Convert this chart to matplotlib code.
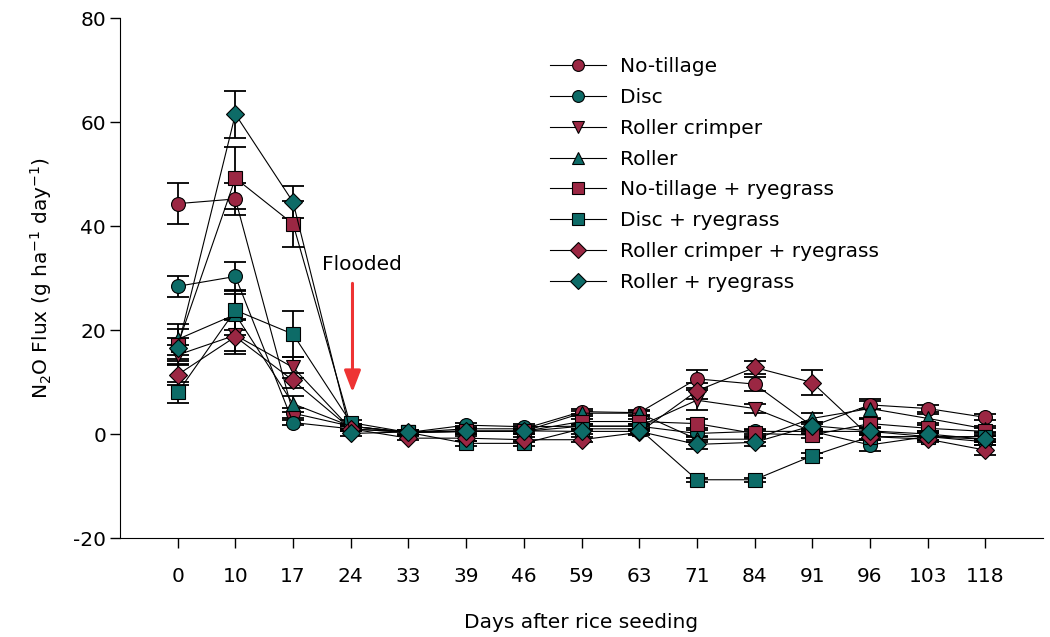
import matplotlib
matplotlib.use("Agg")
import matplotlib.pyplot as plt
import numpy as np

plt.rcParams['font.family'] = ['DejaVu Sans']
plt.rcParams['mathtext.default'] = 'regular'
plt.rcParams['axes.unicode_minus'] = False

days = ['0', '10', '17', '24', '33', '39', '46', '59', '63', '71', '84', '91', '96', '103', '118']

nt        = [44.3, 45.2, 4.0, 1.5, 0.3, 1.0, 1.0, 4.3, 4.1, 10.6, 9.6, 1.5, 5.6, 4.9, 3.2]
nt_err    = [4.0, 3.0, 1.0, 0.5, 0.4, 0.5, 0.5, 0.5, 0.5, 1.7, 1.4, 0.8, 0.8, 0.6, 0.6]
disc      = [28.4, 30.3, 2.2, 1.0, 0.3, 1.7, 1.4, 1.5, 1.5, 0.1, 0.5, 0.5, -2.1, -0.5, -1.5]
disc_err  = [2.0, 2.8, 0.5, 0.5, 0.4, 0.5, 0.5, 0.5, 0.5, 0.6, 0.5, 0.5, 1.1, 0.6, 0.6]
rc        = [15.2, 19.0, 12.8, 1.0, 0.3, 0.5, 0.5, 1.5, 1.5, 6.5, 4.9, 0.5, 0.5, -0.5, -1.0]
rc_err    = [2.0, 3.0, 2.0, 0.5, 0.4, 0.5, 0.5, 0.5, 0.5, 1.9, 0.8, 0.5, 0.6, 0.6, 0.6]
roller    = [18.2, 23.0, 5.8, 1.5, 0.3, 0.5, 0.5, 4.0, 4.0, -1.0, -1.0, 3.0, 4.9, 3.0, 1.0]
roller_err= [3.0, 4.0, 1.5, 0.5, 0.4, 0.5, 0.5, 0.5, 0.5, 0.6, 0.6, 1.0, 1.8, 0.8, 0.6]
ntr       = [17.1, 49.2, 40.4, 1.5, 0.3, 0.5, 0.5, 2.4, 2.4, 2.0, 0.1, -0.2, 2.0, 1.1, 0.5]
ntr_err   = [3.0, 6.0, 4.5, 0.5, 0.4, 0.5, 0.5, 0.5, 0.5, 0.8, 0.6, 0.6, 0.8, 0.6, 0.6]
discr     = [8.0, 23.8, 19.2, 2.2, 0.3, -1.8, -1.8, 1.0, 1.0, -8.8, -8.8, -4.2, -0.5, -0.5, -0.5]
discr_err = [2.0, 3.8, 4.4, 0.5, 0.4, 0.5, 0.5, 0.5, 0.5, 0.4, 0.4, 0.5, 0.6, 0.6, 0.6]
rcr       = [11.4, 18.7, 10.3, 1.0, -0.8, -0.8, -1.1, -1.1, 0.3, 8.3, 12.8, 9.9, -0.5, -1.0, -3.1]
rcr_err   = [2.0, 3.4, 1.5, 0.5, 0.4, 0.5, 0.5, 0.5, 0.5, 1.5, 1.3, 2.4, 0.6, 0.6, 1.0]
rr        = [16.5, 61.5, 44.6, 0.1, 0.4, 0.6, 0.6, 0.5, 0.5, -2.0, -1.6, 1.6, 0.6, 0.0, -1.0]
rr_err    = [2.0, 4.5, 3.0, 0.5, 0.4, 0.5, 0.5, 0.5, 0.5, 0.9, 0.8, 0.8, 0.8, 0.6, 0.6]

labels = ['No-tillage', 'Disc', 'Roller crimper', 'Roller',
          'No-tillage + ryegrass', 'Disc + ryegrass', 'Roller crimper + ryegrass', 'Roller + ryegrass']

RED = '#9b2743'
TEAL = '#0d6b67'

series = [
    (nt, nt_err, 'o', RED),
    (disc, disc_err, 'o', TEAL),
    (rc, rc_err, 'v', RED),
    (roller, roller_err, '^', TEAL),
    (ntr, ntr_err, 's', RED),
    (discr, discr_err, 's', TEAL),
    (rcr, rcr_err, 'D', RED),
    (rr, rr_err, 'D', TEAL),
]
msizes = {'o': 10, 'v': 10.5, '^': 10.5, 's': 9.5, 'D': 9}

fig = plt.figure(figsize=(10.5, 6.37), dpi=100)
ax = fig.add_axes([120/1050, 1-538/637, (1043-120)/1050, (538-18)/637])

x = np.arange(len(days))
handles = []
for (vals, err, m, c), lab in zip(series, labels):
    ax.errorbar(x, vals, yerr=err, fmt='none', ecolor='black', elinewidth=1.3,
                capsize=8, capthick=1.3, zorder=2)
    h, = ax.plot(x, vals, color='black', linewidth=0.8, marker=m, markersize=msizes[m],
                 markerfacecolor=c, markeredgecolor='black', markeredgewidth=0.8,
                 label=lab, zorder=3)
    handles.append(h)

ax.set_xlim(-1, 15)
ax.set_ylim(-20, 80)
ax.set_yticks([-20, 0, 20, 40, 60, 80])
ax.set_xticks(x)
ax.set_xticklabels(days)
ax.spines['top'].set_visible(False)
ax.spines['right'].set_visible(False)
ax.tick_params(axis='both', direction='out', length=7, width=1, labelsize=14.5, colors='black')
ax.tick_params(axis='x', pad=14)
ax.tick_params(axis='y', pad=3)

ax.set_xlabel('Days after rice seeding', fontsize=14.5, labelpad=19)
ax.set_ylabel('N$_2$O Flux (g ha$^{-1}$ day$^{-1}$)', fontsize=14.5, labelpad=14)

ax.annotate('', xy=(3.03, 7.5), xytext=(3.03, 29.5),
            arrowprops=dict(arrowstyle='-|>,head_length=1.3,head_width=0.5', color='#ee3333', lw=2.2))
ax.text(3.2, 32.6, 'Flooded', fontsize=14.5, ha='center', va='center')

leg = ax.legend(handles=handles, loc='upper left', bbox_to_anchor=(0.457, 0.940), frameon=False,
                fontsize=14.5, handlelength=2.8, handletextpad=0.7, labelspacing=0.585,
                borderaxespad=0)
for lh in leg.legend_handles:
    lh.set_markersize(8.5)

fig.savefig('out.png', dpi=100)
